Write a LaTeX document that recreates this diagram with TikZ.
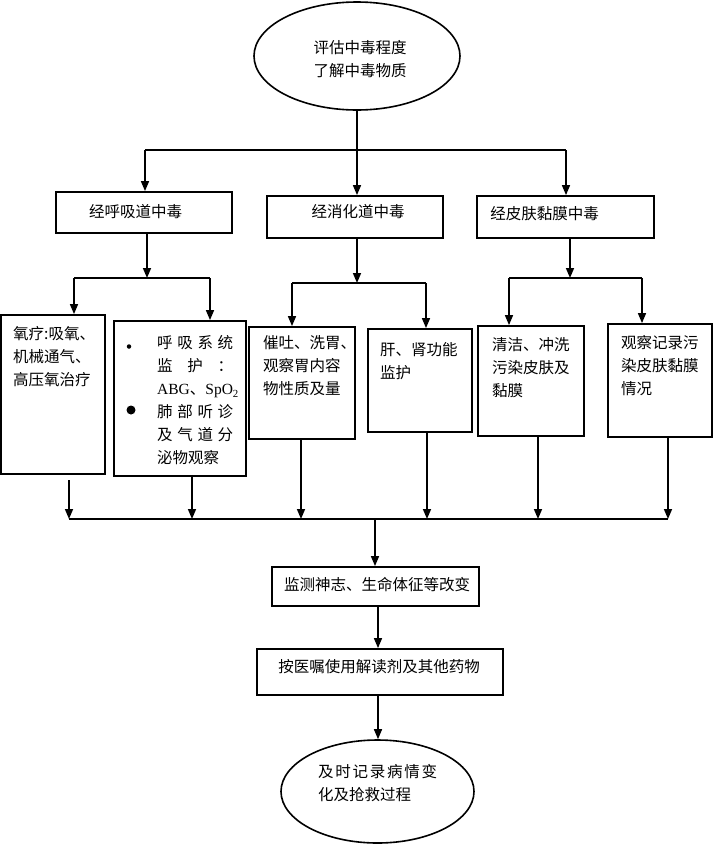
\documentclass[tikz,border=0pt]{standalone}
\usepackage{fontspec}
\setmainfont{Liberation Serif}
\newfontfamily\cjk{Noto Sans CJK SC}
\usetikzlibrary{arrows.meta,shapes.geometric}
\begin{document}
\begin{tikzpicture}[x=1pt,y=-1pt,
  box/.style={draw,line width=1.8pt,inner sep=0pt},
  oval/.style={draw,ellipse,line width=1.6pt,inner sep=0pt},
  txt/.style={font=\cjk\fontsize{15.5}{23}\selectfont,inner sep=0pt,align=left},
  conn/.style={line width=1.5pt},
  arr/.style={conn,-{Triangle[length=10pt,width=8pt]}},
  dot/.style={circle,fill,inner sep=0pt}]
\useasboundingbox (0,0) rectangle (715,844);

% top ellipse
\node[oval,minimum width=206pt,minimum height=108pt] (e1) at (357,56) {};
\node[txt,align=center] (te1) at (360,59.5) {评估中毒程度\\了解中毒物质};

% first-level boxes
\node[box,minimum width=176pt,minimum height=41pt] (b1) at (144,212.5) {};
\node[box,minimum width=176pt,minimum height=42pt] (b2) at (355,217) {};
\node[box,minimum width=177pt,minimum height=42pt] (b3) at (565.5,217) {};
\node[txt] (tb1) at (135.5,212) {经呼吸道中毒};
\node[txt] (tb2) at (358,212) {经消化道中毒};
\node[txt] (tb3) at (544.5,214) {经皮肤黏膜中毒};

% second-level boxes
\node[box,minimum width=104pt,minimum height=159pt] (c1) at (53,394.5) {};
\node[box,minimum width=132pt,minimum height=155pt] (c2) at (180,398.5) {};
\node[box,minimum width=106pt,minimum height=112pt] (c3) at (302,383) {};
\node[box,minimum width=104pt,minimum height=103pt] (c4) at (420,380.5) {};
\node[box,minimum width=106pt,minimum height=110pt] (c5) at (531,381) {};
\node[box,minimum width=104pt,minimum height=113pt] (c6) at (660,380.5) {};

\node[txt,anchor=north west] (tc1) at (13,326.5) {氧疗:吸氧、\\机械通气、\\高压氧治疗};
\node[txt,anchor=north west] (tc2) at (157,335.5) {%
  \makebox[76pt][s]{呼\hfill 吸\hfill 系\hfill 统}\\
  \makebox[76pt][s]{监\hfill 护\hfill ：}\\
  {\rmfamily ABG}、{\rmfamily SpO\textsubscript{2}}\\
  \makebox[76pt][s]{肺\hfill 部\hfill 听\hfill 诊}\\
  \makebox[76pt][s]{及\hfill 气\hfill 道\hfill 分}\\
  泌物观察};
\node[dot,minimum size=4.5pt] (bu1) at (129,346.5) {};
\node[dot,minimum size=9pt] (bu2) at (131,410) {};
\node[txt,anchor=north west] (tc3) at (263,335.5) {催吐、洗胃、\\观察胃内容\\物性质及量};
\node[txt,anchor=north west] (tc4) at (380,342.5) {肝、肾功能\\监护};
\node[txt,anchor=north west] (tc5) at (492,337.5) {清洁、冲洗\\污染皮肤及\\黏膜};
\node[txt,anchor=north west] (tc6) at (621,335.5) {观察记录污\\染皮肤黏膜\\情况};

% lower boxes
\node[box,minimum width=207pt,minimum height=39pt] (d1) at (375.5,586.5) {};
\node[txt] (td1) at (377,585) {监测神志、生命体征等改变};
\node[box,minimum width=246pt,minimum height=46pt] (d2) at (380,672) {};
\node[txt] (td2) at (379,667) {按医嘱使用解读剂及其他药物};
\node[oval,minimum width=193pt,minimum height=103pt] (e2) at (377.5,791.5) {};
\node[txt,anchor=north west] (te2) at (318,764.5) {\makebox[119pt][s]{及\hfill 时\hfill 记\hfill 录\hfill 病\hfill 情\hfill 变}\\化及抢救过程};

% top branching
\coordinate (j0) at (357,150);
\coordinate (jL) at (145,150);
\coordinate (jR) at (566,150);
\draw[conn] (e1.south) -- (j0);
\draw[conn] (jL) -- (jR);
\draw[arr] (jL) -- (jL |- b1.north);
\draw[arr] (j0) -- (j0 |- b2.north);
\draw[arr] (jR) -- (jR |- b3.north);

% left branching
\coordinate (k1) at (147,278);
\coordinate (k1a) at (74,278);
\coordinate (k1b) at (210,278);
\draw[arr] (k1 |- b1.south) -- (k1);
\draw[conn] (k1a) -- (k1b);
\draw[arr] (k1a) -- (k1a |- c1.north);
\draw[arr] (k1b) -- (k1b |- c2.north);

% middle branching
\coordinate (k2) at (357,283);
\coordinate (k2a) at (292,283);
\coordinate (k2b) at (426,283);
\draw[arr] (k2 |- b2.south) -- (k2);
\draw[conn] (k2a) -- (k2b);
\draw[arr] (k2a) -- (k2a |- c3.north);
\draw[arr] (k2b) -- (k2b |- c4.north);

% right branching
\coordinate (k3) at (570,278);
\coordinate (k3a) at (509,278);
\coordinate (k3b) at (642,278);
\draw[arr] (k3 |- b3.south) -- (k3);
\draw[conn] (k3a) -- (k3b);
\draw[arr] (k3a) -- (k3a |- c5.north);
\draw[arr] (k3b) -- (k3b |- c6.north);

% collector
\coordinate (m1) at (69,519);
\coordinate (m2) at (192,519);
\coordinate (m3) at (301,519);
\coordinate (m4) at (427,519);
\coordinate (m5) at (538,519);
\coordinate (m6) at (668,519);
\coordinate (m0) at (375,519);
\coordinate (s1) at (69,480);
\draw[conn] (m1) -- (m6);
\draw[arr] (s1) -- (m1);
\draw[arr] ([yshift=2pt]m2 |- c2.south) -- (m2);
\draw[arr] (m3 |- c3.south) -- (m3);
\draw[arr] (m4 |- c4.south) -- (m4);
\draw[arr] (m5 |- c5.south) -- (m5);
\draw[arr] (m6 |- c6.south) -- (m6);
\draw[arr] (m0) -- (m0 |- d1.north);

\coordinate (n1) at (378,600);
\draw[arr] (n1 |- d1.south) -- (n1 |- d2.north);
\draw[arr] (n1 |- d2.south) -- (n1 |- e2.north);
\end{tikzpicture}
\end{document}
